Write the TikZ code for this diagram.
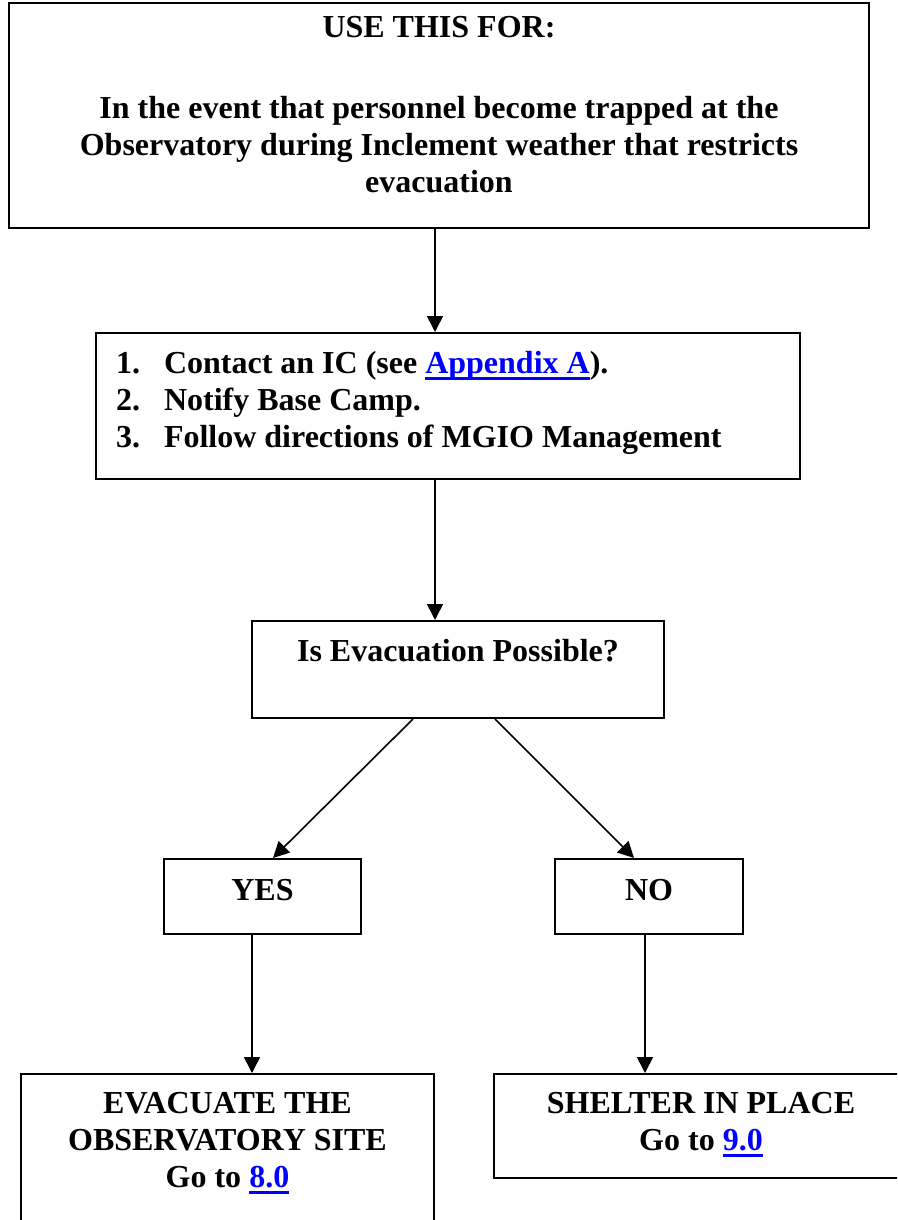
\documentclass[tikz,border=0pt]{standalone}
\usepackage{fontspec}
\setmainfont{Liberation Serif}
\usetikzlibrary{arrows.meta}
\newcommand{\lnk}[1]{{\color{blue}\setbox0=\hbox{#1}\rlap{\rule[-7pt]{\wd0}{3pt}}\box0}}

\begin{document}
\begin{tikzpicture}[x=1pt, y=-1pt, line width=1.6pt,
  every node/.style={font=\fontsize{32}{37}\selectfont\bfseries, inner sep=0pt},
  box/.style={draw, line width=2pt, anchor=north west},
  arr/.style={-{Triangle[length=16pt,width=16pt]}}]
\useasboundingbox (0,0) rectangle (897,1220);
\clip (0,0) rectangle (897,1220);
% boxes
\node[box, minimum width=860pt, text height=35pt, text depth=190pt] (use) at (8,2)
  {\begin{tabular}[t]{@{}c@{}}USE THIS FOR:\\[44pt]
   In the event that personnel become trapped at the\\
   Observatory during Inclement weather that restricts\\
   evacuation\end{tabular}};
\node[box, inner xsep=20pt, text height=40pt, text depth=106pt] (steps) at (95,332)
  {\begin{tabular}[t]{@{}p{48pt}@{}p{616pt}@{}}
   1.&Contact an IC (see \lnk{Appendix A}).\\
   2.&Notify Base Camp.\\
   3.&Follow directions of MGIO Management\end{tabular}};
\node[box, minimum width=412pt, text height=40pt, text depth=57pt] (poss) at (251,620) {Is Evacuation Possible?};
\node[box, minimum width=197pt, text height=41pt, text depth=34pt] (yes) at (163,858) {YES};
\node[box, minimum width=188pt, text height=41pt, text depth=34pt] (no) at (554,858) {NO};
\node[box, minimum width=413pt, text height=39pt, text depth=170pt] (evac) at (20,1073)
  {\begin{tabular}[t]{@{}c@{}}EVACUATE THE\\OBSERVATORY SITE\\Go to \lnk{8.0}\end{tabular}};
\node[box, minimum width=414pt, text height=39pt, text depth=65pt] (shelter) at (493,1073)
  {\begin{tabular}[t]{@{}c@{}}SHELTER IN PLACE\\Go to \lnk{9.0}\end{tabular}};
% arrows
\draw[arr] ([xshift=-4pt]use.south) -- ([xshift=-13pt]steps.north);
\draw[arr] ([xshift=-13pt]steps.south) -- ([xshift=-23pt]poss.north);
\draw[arr] ([xshift=-45pt]poss.south) -- ([xshift=10.5pt]yes.north);
\draw[arr] ([xshift=37pt]poss.south) -- ([xshift=-15pt]no.north);
\draw[arr] ([xshift=-10.5pt]yes.south) -- ([xshift=24.5pt]evac.north);
\draw[arr] ([xshift=-4pt]no.south) -- ([xshift=-56pt]shelter.north);
\end{tikzpicture}
\end{document}
